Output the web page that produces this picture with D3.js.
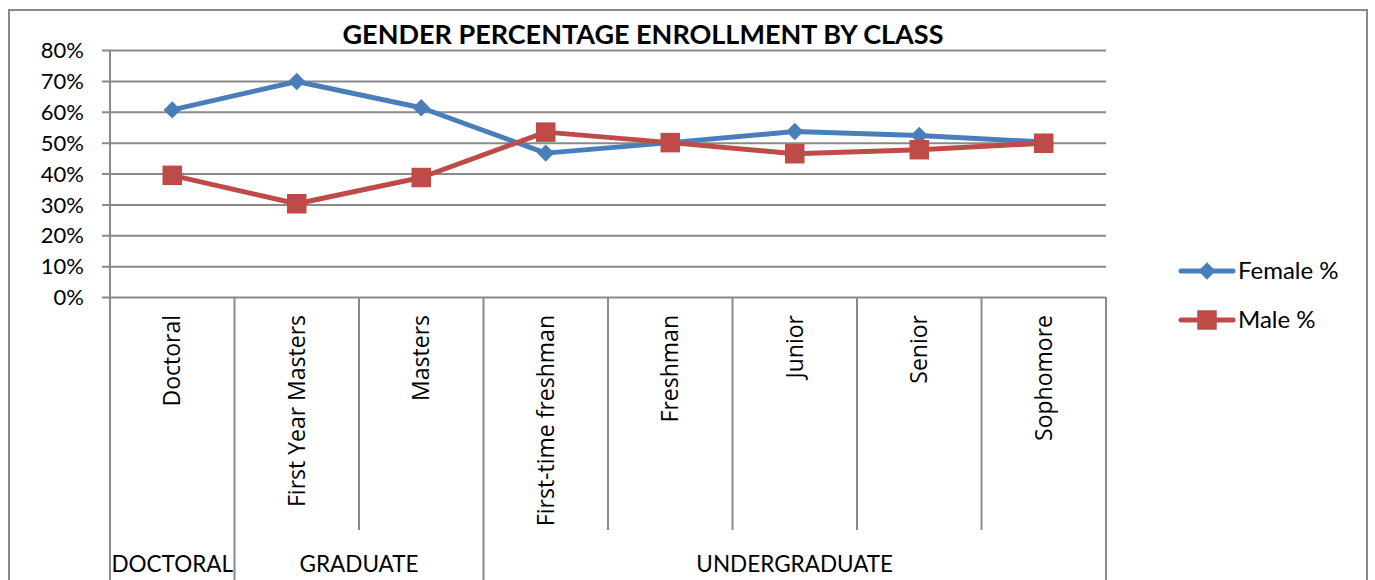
<!DOCTYPE html>
<html>
<head>
<meta charset="utf-8">
<script src="https://cdn.jsdelivr.net/npm/d3@7"></script>
<style>
body { margin: 0; background: #fff; }
text { fill: #000; }
</style>
</head>
<body>
<svg id="svg" width="1375" height="580"></svg>
<script>
// chart values
var categories = ["Doctoral", "First Year Masters", "Masters", "First-time freshman", "Freshman", "Junior", "Senior", "Sophomore"];
var groups = ["DOCTORAL", "GRADUATE", "GRADUATE", "UNDERGRADUATE", "UNDERGRADUATE", "UNDERGRADUATE", "UNDERGRADUATE", "UNDERGRADUATE"];
var female = [0.606, 0.698, 0.613, 0.466, 0.500, 0.536, 0.523, 0.502];
var male = [0.394, 0.302, 0.387, 0.534, 0.500, 0.464, 0.477, 0.498];
var yTicks = [0, 0.1, 0.2, 0.3, 0.4, 0.5, 0.6, 0.7, 0.8];
var seriesNames = ["Female %", "Male %"];

var svg = d3.select("#svg");
var plotLeft = 110, plotRight = 1106, plotTop = 50, plotBottom = 297;
var grid = "#8a8a8a";

var x = d3.scaleBand().domain(categories).range([plotLeft, plotRight]);
var y = d3.scaleLinear().domain([0, 0.8]).range([plotBottom, plotTop]);

// outer frame
svg.append("rect").attr("x", 9).attr("y", 10).attr("width", 1358).attr("height", 600)
    .attr("fill", "none").attr("stroke", grid).attr("stroke-width", 2);

// title
svg.append("text").attr("x", 643).attr("y", 44).attr("text-anchor", "middle")
    .attr("font-family", "Lato, sans-serif").attr("font-weight", "bold").attr("font-size", "27px")
    .text("GENDER PERCENTAGE ENROLLMENT BY CLASS");

// y axis with gridlines
var yAxis = d3.axisLeft(y).tickValues(yTicks).tickFormat(d3.format(".0%"))
    .tickSize(-(plotRight - plotLeft)).tickPadding(26);
var ya = svg.append("g").attr("transform", "translate(" + plotLeft + ",0)").call(yAxis);
ya.select(".domain").remove();
ya.selectAll("line").attr("x1", -8).attr("stroke", grid).attr("stroke-width", 2);
ya.selectAll("text").attr("font-family", "Lato, sans-serif").attr("font-size", "22px").attr("dy", "0.35em");

// left axis line
svg.append("line").attr("x1", plotLeft).attr("x2", plotLeft).attr("y1", plotTop).attr("y2", plotBottom)
    .attr("stroke", grid).attr("stroke-width", 2);

// category separators
var bounds = categories.map(function(c) { return x(c); }).concat([plotRight]);
svg.append("g").selectAll("line").data(bounds).enter().append("line")
    .attr("x1", function(d) { return d; }).attr("x2", function(d) { return d; })
    .attr("y1", plotBottom)
    .attr("y2", function(d, i) {
        if (i == 0 || i == categories.length) return 580;
        return groups[i] != groups[i - 1] ? 580 : 530;
    })
    .attr("stroke", grid).attr("stroke-width", 2);

// category labels
svg.append("g").selectAll("text").data(categories).enter().append("text")
    .attr("transform", function(d) { return "translate(" + (x(d) + x.bandwidth() / 2 + 8) + ",315) rotate(-90)"; })
    .attr("text-anchor", "end")
    .attr("font-family", "'Open Sans', sans-serif").attr("font-size", "23px")
    .text(function(d) { return d; });

// group labels
var groupList = [];
groups.forEach(function(g, i) {
    var last = groupList[groupList.length - 1];
    if (last && last.name == g) last.end = categories[i];
    else groupList.push({name: g, start: categories[i], end: categories[i]});
});
svg.append("g").selectAll("text").data(groupList).enter().append("text")
    .attr("x", function(d) { return (x(d.start) + x(d.end) + x.bandwidth()) / 2; })
    .attr("y", 572).attr("text-anchor", "middle")
    .attr("font-family", "Lato, sans-serif").attr("font-size", "22.5px")
    .text(function(d) { return d.name; });

// series
var line = d3.line().x(function(d, i) { return x(categories[i]) + x.bandwidth() / 2; }).y(function(d) { return y(d); });
var colors = ["#4a7ebb", "#be4b48"];
var data = [female, male];
var sizes = [150, 380];
var rotations = [45, 0];

data.forEach(function(s, k) {
    svg.append("path").datum(s).attr("d", line).attr("fill", "none")
        .attr("stroke", colors[k]).attr("stroke-width", 5).attr("stroke-linejoin", "round");
    svg.append("g").selectAll("path").data(s).enter().append("path")
        .attr("d", d3.symbol().type(d3.symbolSquare).size(sizes[k]))
        .attr("transform", function(d, i) {
            return "translate(" + (x(categories[i]) + x.bandwidth() / 2) + "," + y(d) + ") rotate(" + rotations[k] + ")";
        })
        .attr("fill", colors[k]);
});

// legend
var legend = svg.append("g");
seriesNames.forEach(function(n, k) {
    var ly = 271 + k * 49;
    legend.append("line").attr("x1", 1181).attr("x2", 1233).attr("y1", ly).attr("y2", ly)
        .attr("stroke", colors[k]).attr("stroke-width", 5).attr("stroke-linecap", "round");
    legend.append("path").attr("d", d3.symbol().type(d3.symbolSquare).size(sizes[k]))
        .attr("transform", "translate(1207," + ly + ") rotate(" + rotations[k] + ")").attr("fill", colors[k]);
    legend.append("text").attr("x", 1238).attr("y", ly).attr("dy", "0.35em")
        .attr("font-family", "Lato, sans-serif").attr("font-size", "24px").text(n);
});
</script>
</body>
</html>
